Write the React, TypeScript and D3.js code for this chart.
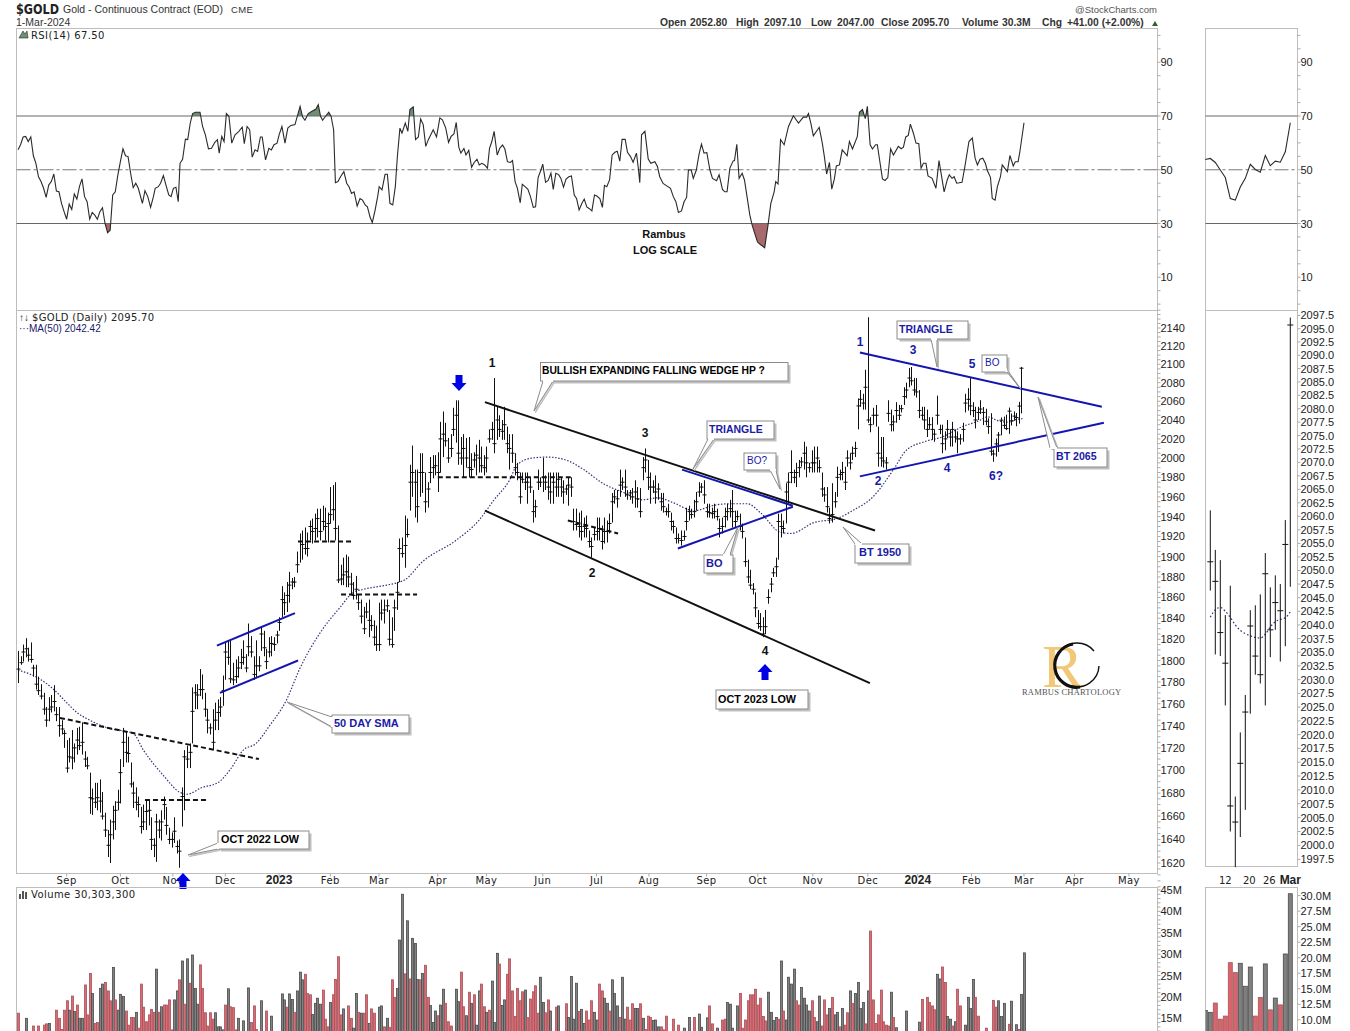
import React from "react";
import * as d3 from "d3";

// ---------- DATA: daily bars as [high, low, close] ----------
const bars2022A: number[][] = [
[1809,1779,1792],[1804,1796,1798],[1815,1799,1808],[1821,1803,1811],[1812,1799,1805],[1817,1798,1801],[1796,1785,1793],[1796,1773,1778],[1785,1768,1772],[1778,1764,1767],
[1770,1750,1755],[1757,1739,1745],[1766,1744,1755],[1768,1752,1757],[1777,1753,1762],[1757,1744,1750],[1757,1730,1740],[1745,1732,1737],[1736,1720,1733],[1727,1698,1702],
[1729,1707,1712],[1736,1701,1711],[1724,1707,1720],[1738,1714,1727],[1739,1718,1722],[1743,1714,1725],[1717,1703,1710],[1712,1701,1704],[1698,1662,1676],[1684,1661,1675],
[1689,1667,1672],[1689,1665,1676],[1692,1663,1673],[1681,1657,1660],[1663,1642,1648],[1648,1625,1635],[1657,1620,1644],[1669,1640,1655],[1673,1648,1665],[1683,1665,1672],
[1710,1671,1698],[1738,1703,1725],[1735,1707,1716],[1730,1707,1715],[1707,1685,1688],[1690,1667,1680],[1685,1665,1672],[1677,1659,1670],[1668,1645,1651],[1670,1648,1655],
[1674,1648,1664],[1674,1652,1665],[1659,1631,1640],[1641,1625,1635],[1662,1621,1655],[1657,1641,1648],[1665,1639,1655],[1677,1657,1670],[1668,1644,1652],[1650,1636,1640],
[1646,1633,1640],[1659,1637,1647],[1639,1628,1634],[1640,1616,1630],[1685,1651,1677],[1718,1665,1712],[1722,1702,1710],[1724,1702,1716],[1775,1724,1753],[1778,1755,1770],
[1778,1755,1768],[1792,1767,1773],[1787,1764,1773],[1770,1748,1755],[1755,1733,1745],[1742,1732,1738],[1755,1718,1725],[1761,1736,1745],[1764,1736,1752],[1766,1748,1757],
[1786,1758,1772],[1817,1782,1808],[1819,1796,1803],[1819,1779,1783],[1798,1777,1782],[1801,1779,1785],[1804,1784,1793],[1811,1792,1798],[1819,1796,1803],[1806,1789,1793],
[1835,1804,1813],[1823,1803,1808],[1804,1782,1787],[1819,1784,1795],[1804,1790,1795],[1831,1809,1825],[1828,1804,1812],[1811,1792,1799],[1822,1803,1808],[1823,1804,1816],
[1822,1809,1815],[1828,1816,1824],
];
const bars2023A: number[][] = [
[1841,1828,1836],[1871,1841,1858],[1865,1843,1855],[1875,1846,1862],[1885,1855,1872],[1879,1868,1875],[1880,1870,1875],[1905,1884,1892],[1923,1894,1915],[1926,1897,1912],
[1929,1902,1908],[1924,1900,1908],[1936,1916,1930],[1938,1913,1925],[1943,1916,1928],[1948,1919,1938],[1948,1916,1925],[1951,1926,1935],[1949,1916,1930],[1944,1914,1933],
[1970,1933,1942],[1972,1936,1947],[1975,1916,1928],[1931,1874,1877],[1892,1872,1878],[1899,1872,1882],[1902,1870,1885],[1900,1870,1880],[1884,1863,1873],[1875,1858,1862],
[1881,1858,1868],[1863,1848,1855],[1858,1835,1842],[1851,1825,1830],[1855,1840,1846],[1858,1822,1838],[1843,1828,1833],[1838,1814,1822],[1833,1809,1815],[1855,1809,1815],
[1858,1838,1845],[1858,1835,1848],[1858,1846,1852],[1848,1814,1820],[1841,1812,1815],[1858,1828,1850],[1875,1848,1865],[1918,1875,1908],[1919,1899,1903],[1941,1889,1911],
[1938,1919,1922],[1993,1946,1975],[2013,1960,1985],[1988,1939,1975],[1988,1934,1950],[2005,1960,1985],[2005,1964,1985],[1985,1944,1955],[1975,1949,1968],[2001,1974,1985],
[2003,1979,1990],[2003,1982,1992],[2006,1965,1985],[2038,1985,2020],[2049,2001,2025],[2037,2012,2018],[2021,1995,2000],[2025,2001,2010],[2053,2023,2030],[2061,2016,2045],
[2061,1993,2005],[2022,1993,2000],[2025,1980,2010],[2021,1990,2000],[2022,1980,1990],[2005,1980,1988],[2006,1990,1998],[2014,1982,2003],[2019,1985,2000],[2012,1985,1992],
[2003,1982,1990],[2012,1985,2000],[2030,2016,2020],[2038,2019,2030],[2085,2005,2015],[2054,2019,2040],[2045,2022,2030],[2040,2019,2028],[2054,2019,2035],[2033,2005,2015],
[2025,1988,2010],[2025,1995,2005],[2005,1982,1990],[1995,1977,1985],[1985,1953,1960],[1985,1974,1978],[1985,1967,1975],[1985,1953,1975],[1980,1964,1970],[1967,1934,1945],
[1957,1939,1950],[1988,1967,1975],[1980,1970,1975],[2000,1965,1980],[1982,1967,1975],[1985,1957,1970],[1985,1953,1965],[1985,1953,1975],[1985,1960,1970],[1985,1960,1978],
[1980,1960,1970],[1977,1953,1965],[1972,1962,1968],[1980,1951,1972],[1980,1960,1970],
];
const bars2023B: number[][] = [
[1948,1926,1935],[1948,1926,1932],[1944,1919,1930],[1946,1916,1925],[1939,1919,1930],[1941,1919,1928],[1926,1909,1915],[1919,1899,1910],[1929,1916,1922],[1939,1916,1925],
[1939,1916,1928],[1931,1907,1915],[1939,1913,1925],[1936,1914,1925],[1943,1923,1933],[1964,1934,1955],[1967,1953,1960],[1967,1949,1958],[1988,1960,1972],[1980,1967,1975],
[1988,1960,1970],[1967,1957,1962],[1967,1957,1964],[1969,1953,1960],[1977,1949,1965],[1970,1949,1958],[1969,1939,1945],[2001,1977,1990],[2010,1985,1998],[1998,1967,1980],
[1985,1953,1970],[1977,1964,1970],[1982,1953,1965],[1974,1957,1968],[1964,1946,1955],[1964,1944,1950],[1949,1941,1945],[1953,1939,1945],[1944,1926,1935],[1936,1923,1930],
[1929,1913,1918],[1923,1913,1918],[1926,1911,1916],[1926,1916,1920],[1949,1926,1935],[1951,1936,1945],[1948,1938,1942],[1957,1939,1945],[1965,1946,1955],[1975,1960,1965],
[1974,1964,1970],[1977,1953,1962],[1953,1939,1945],[1953,1939,1944],[1949,1938,1943],[1953,1938,1945],[1948,1936,1940],[1938,1919,1928],[1939,1923,1930],[1949,1929,1940],
[1953,1936,1945],[1957,1939,1948],[1967,1929,1945],[1946,1929,1935],[1946,1936,1940],[1943,1926,1930],[1933,1918,1925],[1919,1890,1895],[1897,1874,1880],[1887,1868,1872],
[1874,1863,1868],[1865,1841,1850],[1848,1830,1835],[1845,1828,1832],[1841,1822,1825],[1848,1825,1832],[1868,1854,1860],[1879,1865,1873],[1889,1880,1884],[1899,1880,1890],
[1943,1897,1935],[1943,1919,1930],[1936,1923,1928],[1974,1933,1965],[1985,1953,1975],[2008,1974,1985],[1988,1974,1980],[1995,1970,1985],[1998,1980,1990],[2001,1991,1996],
[2017,1988,2005],[2012,1980,1995],[1995,1985,1990],[2008,1985,1995],[2012,1985,1995],[2012,1985,2000],[1998,1985,1990],[1985,1960,1968],[1970,1955,1962],[1970,1944,1950],
[1949,1933,1938],[1974,1934,1942],[1965,1949,1955],[1991,1960,1980],[1988,1977,1983],[1996,1977,1985],[1991,1967,1975],[2008,1991,2000],[2005,1988,1995],[2012,1998,2005],
[2017,2001,2010],[2063,2030,2055],[2072,2054,2062],[2068,2051,2058],[2094,2051,2075],[2152,2037,2040],[2043,2027,2035],[2053,2035,2045],[2056,2033,2045],[2033,1991,2005],
[2022,1991,2000],[2022,1990,1997],[2001,1988,1995],[2061,2038,2047],[2051,2028,2035],[2045,2028,2038],[2059,2037,2050],[2056,2040,2045],[2056,2048,2052],[2075,2056,2065],
[2080,2063,2072],[2096,2075,2085],[2097,2077,2082],[2085,2066,2072],[2085,2064,2070],
];
const bars2024: number[][] = [
[2072,2042,2050],[2054,2040,2045],[2054,2030,2040],[2051,2022,2030],[2043,2030,2035],[2043,2019,2030],[2030,2017,2025],[2066,2035,2045],[2035,2025,2030],[2035,2005,2015],
[2028,2008,2020],[2040,2021,2030],[2030,2012,2022],[2038,2012,2030],[2030,2016,2022],[2028,2005,2020],[2025,2014,2020],[2037,2017,2030],[2068,2048,2058],[2074,2050,2062],
[2085,2045,2055],[2059,2043,2050],[2054,2031,2040],[2054,2040,2048],
];
const barsRecent: number[][] = [
[2061.1,2046.3,2051.6],[2053.8,2034.6,2048],[2051.9,2034.3,2038.6],[2041.8,2025.3,2033],[2047.2,2002.5,2007.1],[2008.8,1996.1,2004.2],[2020.4,2001.5,2014.8],[2027.2,2006.4,2024.1],
[2042.7,2023.8,2039.8],[2043.6,2030.9,2034.3],[2045.6,2029.3,2030.9],[2053.2,2025.3,2049.4],[2046.9,2034.1,2039.1],[2049.1,2039.1,2044.1],[2047.5,2033.3,2042.6],[2059.3,2036.1,2054.8],[2097.1,2047,2095.7],
];
const bars = [...bars2022A, ...bars2023A, ...bars2023B, ...bars2024, ...barsRecent];

// MA(50): [trading day, value]
const maPoints: number[][] = [
[0,1791],[5,1787],[9,1782],[14,1773],[19,1761],[23,1752],[28,1745],[35,1738],[45,1733],[49,1718],[57,1695],[63,1681],[66,1679],[72,1685],[78,1689],[83,1701],[88,1718],[93,1724],[98,1739],[105,1764],
[110,1792],[118,1826],[126,1851],[131,1865],[135,1868],[144,1872],[149,1875],[151,1877],[158,1895],[171,1916],[180,1936],[186,1957],[192,1977],[195,1993],[201,2000],[207,2001],[215,1997],[221,1988],
[229,1973],[236,1965],[244,1957],[250,1959],[256,1954],[264,1946],[273,1952],[279,1953],[285,1953],[290,1944],[298,1924],[302,1923],[311,1934],[320,1938],[326,1946],[334,1960],[342,1988],[347,2008],
[354,2017],[361,2022],[369,2033],[376,2040],
];
const maRecent = [2041.4,2042.8,2043.2,2042.5,2041.4,2040,2039,2038.4,2038,2037.7,2037.6,2038.3,2039.6,2040.6,2041,2041.3,2042.4];

// RSI(14): [trading day, value]
const rsi2022: number[][] = [
[0,57.4],[1,59.3],[2,62.2],[3,62.4],[4,60.5],[5,62.2],[6,55.2],[7,52.4],[8,47.4],[9,45.6],[10,43.1],[11,39.7],[12,44.3],[13,45.6],[14,48.4],[15,42.1],[16,41.8],[17,37.5],[18,34.4],[19,31.6],
[20,37.2],[21,35.2],[22,41],[23,39.1],[24,43.7],[25,46.6],[26,40],[27,38.1],[28,31.6],[29,34.1],[30,33.1],[31,31.6],[32,34.4],[33,35.9],[34,30],[35,26.6],[36,27.5],[37,40.6],[38,41.8],[39,48],
[40,53],[41,57.8],[42,55.2],[43,54.9],[44,48.7],[45,43.3],[46,45],[47,43.1],[48.6,37.5],[49.6,42.2],[50.7,40],[51.8,36],[52.9,40],[53.6,43.1],[54.8,43.7],[55.7,45],[56.8,47.8],[57.8,44.3],[58.9,40.6],[59.8,40],
[60.7,43.1],[61.7,43.5],[62.6,38.1],[63.3,52.4],[64.3,53.9],[65.4,61.4],[66.3,61.2],[67.3,67.4],[68.2,70.9],[69.3,71.4],[71.1,71.4],[72.1,66.1],[73.2,63],[74.4,57.8],[75.6,58],[76.9,60.2],[77.9,61.2],[78.6,56.2],[79.6,62.4],[80.5,60.5],
[81.4,70.9],[82.4,69.9],[83.5,59.9],[84.8,63],[86.3,64.3],[87.6,65.9],[88.4,59.7],[89.5,66.1],[90.5,64.9],[91.5,54.7],[92.6,57.4],[93.6,56.8],[94.7,62.2],[95.4,62.2],[96.7,53.7],[98,58],[99,57.4],[100,59.3],[101.2,59.9],[102,63],
];
const rsi2023A: number[][] = [
[103.1,66.1],[104.3,59.9],[105.4,65.5],[106.6,66.5],[108.2,66.8],[110.2,73.6],[111.2,69.6],[112.1,68.4],[113.4,70.9],[114.7,71.7],[116.4,72.6],[117.3,74.2],[118.2,69.9],[119,68.4],[120.3,70.1],[121.4,71.4],[122.3,69.9],[123.3,64.9],[124,45.2],[125,45.6],
[126,47.4],[127.3,49.3],[128.4,45],[129.3,43.7],[130.3,41.2],[131.3,41.8],[132.5,36.5],[133.6,39.3],[134.6,38.7],[135.7,36.8],[136.5,36.2],[137.5,32.5],[138.4,30.3],[139.5,35],[140.5,40],[141.1,43.7],[142.2,42.5],[143.4,48.3],[144.3,48.3],[145.3,37.5],
[146.4,36.9],[147.4,43.7],[148.2,54.9],[149.2,65.5],[150,63.6],[151.3,67.4],[152.3,64.3],[153.1,72.4],[154.4,73.4],[155.3,61.2],[156.4,62.2],[157.3,68.9],[158.3,66.8],[159.3,58.7],[160.3,61.2],[162.2,64.9],[163.5,62.2],[164.8,69.3],[165.8,68.6],[167.1,65.5],
[168.2,60.2],[169.2,62.4],[170.3,63.3],[171.2,67.6],[172.2,58.4],[173,56.2],[174.2,57.9],[175,55.5],[176.1,57.2],[177.2,50.9],[178.2,52.7],[179.3,53.9],[180.2,51.8],[181.2,52.4],[182.2,51.9],[183.4,50.6],[184.2,58],[185.1,60.5],[186,64.3],[187.2,55.5],
[188.2,58],[189.3,59.2],[190.2,57.7],[191.2,53],[192.3,52.7],[193.2,53.4],[194.2,45.6],[195.1,43.1],[196.2,37.7],[197,44.6],[198.1,43.7],[199.2,42.7],[200.2,40],[201.3,36],[202.2,36.2],[203.2,47.2],[204.3,49.9],[205,52.1],[206.1,45.3],[207.1,46],
[208.2,48.7],[209.1,42.7],[210.1,48.7],[211.2,48.2],[212.1,46.8],[213.1,43.5],[214.1,46.5],[215.2,47.4],[216.2,47.7],
];
const rsi2023B: number[][] = [
[217.3,40.6],[218.2,39.3],[219.2,35],[220.3,37.5],[221.2,39.1],[222.2,36.2],[223.1,35.6],[224.2,34.7],[225.2,40.6],[226.1,40.2],[227.3,39.3],[228.3,36],[229.1,44.2],[230,43.7],[231.1,46.2],[232.1,55.5],[233.2,56.5],[234.1,56.9],[235.1,53.2],[236,61.3],
[237.2,61.3],[238.1,56.5],[239.3,54.9],[240.3,52.8],[241.6,56.2],[242.4,50],[242.9,45.2],[243.6,63],[244.9,64.3],[246.2,54],[247.2,52.4],[248.8,53],[249.8,51.2],[250.7,47.4],[252,44.9],[253.3,44.1],[254.9,43.1],[256,40],[257,38.1],[258,34.1],
[259.2,34.7],[260.2,38.1],[261.2,39.7],[261.9,49.9],[263,49.9],[263.8,46.8],[265,49.9],[266,55.5],[267,59.5],[268,56.2],[269.1,56.4],[270.3,49.9],[271.3,46.8],[272.9,45.9],[273.9,48.1],[275.2,42.7],[276.1,41.8],[277,41.8],[278.1,50.6],[279.4,53.3],
[279.9,53.4],[280.8,59.5],[281.7,46.8],[282.9,48.7],[283.8,46.2],[284.8,40],[285.9,33.1],[286.8,29.4],[287.8,26.3],[288.9,23.1],[290,22.2],[291.7,21],[293,29.4],[294.1,37.5],[295.4,41.8],[296,45.6],[296.9,44.7],[297.9,61.2],[299.3,59.3],[301,66.1],
[302.9,70.1],[304.9,67.4],[306.8,69.6],[308.1,69.6],[308.8,70.9],[309.7,67.4],[310.7,62.6],[313,65.8],[314.2,59.9],[315,55],[315.9,48.4],[317,52.7],[317.9,42.8],[318.9,46.5],[319.7,51.4],[320.9,51.8],[322,57.4],[323.9,55.2],[324.8,60.5],[326,57.7],
[327.9,62.4],[328.7,71.4],[329.9,72.4],[331,69],[331.8,73.6],[332.9,59.3],[333.8,57.7],[335,59.3],[335.7,59.3],[337.7,46.6],[338.7,46],[339.8,47.1],[340.9,57.8],[342,55.5],[343.9,58.7],[345,57.8],[345.9,58.4],[346.8,62.2],[347.8,62.8],[348.6,67],
];
const rsi2024: number[][] = [
[349.8,63.6],[350.8,59.9],[351.9,59.7],[352.8,50.6],[353.7,52.4],[354.7,52.4],[355.5,47.7],[357.1,46.8],[358.6,43.1],[359.8,53.4],[361.8,41.8],[363,46.2],[363.8,48.1],[364.9,46.8],[365.7,47.4],[366.7,45],[368.8,45.3],[369.8,50.6],[371.5,60.5],[372.8,61.8],
[373.9,54.3],[374.8,51.8],[375.8,53.9],[376.9,54.3],[377.9,52.4],[378.7,49.6],[379.9,47.2],[380.6,39.3],[381.7,38.7],[382.6,43.7],[383.8,47.4],[384.5,51.8],[386.5,49.3],[387.5,55.3],[388.8,51.4],[389.6,53],[390.7,53],[391.4,56.8],[393,67.5],
];
const rsiPoints = [...rsi2022, ...rsi2023A, ...rsi2023B, ...rsi2024];
const rsiRecent = [53.8,54.2,52.7,49.9,47.1,39.3,38.7,43.6,46.8,52,50.1,49.1,55.3,51.5,53.2,52.8,56.7,67.5];

// Volume in millions, [volume, 1 = red day]
const volumeA: number[][] = [
[16.2,1],[10,1],[10,0],[15,0],[10,0],[10,0],[13.2,1],[10,1],[13.2,1],[10,1],[13.4,1],[13.7,1],[13.8,0],[10,0],[10,0],[16.9,1],[15,1],[12.4,1],[16.9,1],[19.1,1],
[16.9,0],[20.2,1],[16.6,0],[18.1,1],[15,0],[15,0],[22.8,1],[15.8,1],[25.5,1],[20.8,0],[13.8,1],[14,1],[22,0],[23,0],[23.4,1],[21.4,1],[19.1,1],[26.9,0],[19.3,1],[16.9,0],
[20.6,0],[20.1,0],[16.7,1],[13.4,1],[15.2,1],[15.2,1],[16.4,0],[12.7,1],[23,1],[17.6,1],[14.2,1],[15.8,1],[17.1,1],[16.4,1],[26.5,0],[16.4,1],[17.7,0],[18.1,1],[18.1,1],[19.3,1],
[12.3,1],[19.3,0],[21.4,0],[24,1],[28.4,0],[18.3,1],[28.9,0],[23.2,1],[29.8,0],[22,0],[18.3,0],[27.5,1],[22,1],[16.3,1],[13.2,1],[16.3,1],[14.8,1],[16.3,0],[13,0],[13,0],
[12.3,0],[18.1,1],[21.9,0],[17.7,1],[17.5,1],[12.3,1],[15,0],[10,0],[14.4,0],[10,0],[22.1,0],[14,1],[17.9,1],[12.4,1],[10,0],[19.1,0],[10,0],[16.7,1],[10,0],[15.5,0],
[10,0],[10,0],[10,0],[20.7,0],[19.3,0],[17.6,1],[20.7,0],[19.4,0],[16.4,1],[21.4,0],[25.8,0],[24,0],[25.3,1],[20.8,1],[20.5,1],[15.9,0],[18.5,0],[19.7,0],[18.3,0],[21.6,1],
[14.8,1],[13,1],[18.7,0],[20.5,1],[24.1,1],[29.4,1],[15.8,1],[17.2,0],[10,1],[17.9,1],[15,1],[12.7,0],[20.8,0],[16.4,1],[16.2,0],[16.2,1],[20.5,1],[13.8,0],[17.2,1],[16.2,1],
[10,0],[17.6,0],[17.9,0],[13,1],[15,0],[12.9,1],[24,1],[19.9,1],[22,0],[33.3,0],[44,0],[25.4,1],[37.8,0],[24.2,1],[33.7,0],[32.5,0],[24.1,0],[24,1],[25.5,0],[27.4,1],
[19.9,1],[18,0],[14,0],[16.7,0],[15.6,1],[18.1,0],[21.8,0],[18.5,1],[14.2,1],[13.2,1],[10,0],[21.8,0],[18.9,0],[25.8,1],[17.7,1],[15.6,0],[21.1,1],[18.5,0],[20.5,1],[13.4,0],
[21.4,0],[23,1],[17.7,1],[16.4,0],[16.9,1],[23.7,0],[14,0],[30.2,0],[27.7,1],[18,0],[19.3,0],[25.3,1],[28.9,1],[21.4,1],[15.4,1],[22,1],[19.1,1],[21.2,1],[21.6,0],[15.2,1],
[19.5,1],[21.2,1],[22.6,1],[16.2,1],[24.6,0],[18.7,0],[16.3,1],[19.3,1],[16.7,0],[10,1],[17.6,1],[17.9,0],[10,0],[10,0],[18.4,1],[15.2,0],[24.8,0],[14.8,0],[23.2,0],[16.6,1],
];
const volumeB: number[][] = [
[17.1,0],[13.8,0],[16.7,1],[14.6,1],[19.1,1],[16.4,0],[14.6,0],[23,1],[21.4,1],[19.7,0],[18.5,0],[16.7,1],[24,0],[20.8,0],[17.9,0],[15.2,1],[24.6,0],[14.8,0],[17.6,1],[14.6,1],
[18.4,1],[17.3,0],[17.3,0],[18.4,1],[15,0],[12.4,1],[15.5,1],[15.2,1],[14.5,0],[14.6,0],[13,0],[13,1],[12.3,1],[15.5,1],[10,0],[10,0],[14.8,1],[10,0],[13.4,1],[10,0],
[12.7,0],[10,0],[15.2,0],[11,0],[15.2,1],[11,0],[16,0],[12.9,0],[11,0],[15.1,0],[17.9,1],[13.7,1],[11,0],[12.7,0],[11,0],[14.6,1],[14.8,1],[18.7,0],[18.3,0],[12.7,0],
[11,0],[17.9,0],[20.8,1],[12.7,1],[14.6,1],[19.1,1],[20.5,1],[20.5,1],[21.8,1],[18.1,1],[19.7,1],[15.4,1],[14.4,1],[21.1,0],[16.4,0],[14.5,0],[15.2,0],[14.8,1],[28.4,0],[16.7,1],
[14.6,0],[24.6,0],[23,0],[26.5,0],[19.1,1],[18.1,1],[22.2,0],[19.7,0],[18.1,0],[16.7,0],[19.1,1],[15.2,1],[14.2,0],[20.2,0],[13.2,1],[19.3,1],[15.8,1],[17.3,0],[19.9,1],[15.8,0],
[16.4,0],[13,1],[17.3,0],[13.4,1],[16.3,1],[21.4,0],[18.5,1],[20.8,0],[23.4,0],[17.3,0],[18.7,0],[13.7,1],[21.4,0],[35.4,1],[19.3,1],[13.8,1],[15.8,1],[21.6,1],[14.2,1],[13.4,1],
[13.2,1],[21.1,0],[15.2,1],[12.8,0],[10,0],[10,0],[10,0],[16.7,0],[10,0],[10,0],[10,0],[10,0],[14.1,0],[19.4,1],[10,0],[19.9,1],[18.7,1],[17.9,1],[17,1],[25.3,0],
[24.2,0],[27,1],[23.4,1],[15.4,0],[14.8,0],[13.2,1],[14.2,0],[21.8,1],[17.9,1],[11,0],[13.4,0],[19.9,0],[17.3,0],[24.1,0],[19.9,1],[15.5,1],[11.5,0],[11.2,0],[12.7,1],[10.1,1],
[10.6,1],[19.2,1],[17.6,1],[19.1,0],[15.4,0],[18.5,0],[10.6,1],[13.6,1],[19,0],[11.6,1],[13.5,0],[12.4,1],[20.6,0],[30.3,0],
];
const volume = [...volumeA, ...volumeB];

// Time axis: trading-day position of each month label
const monthTicks: [string, number, boolean][] = [
["Sep",19,false],["Oct",40,false],["Nov",60.5,false],["Dec",81,false],["2023",102,true],["Feb",122,false],["Mar",141,false],["Apr",164,false],["May",183,false],["Jun",205,false],["Jul",226,false],["Aug",246.5,false],
["Sep",269,false],["Oct",289,false],["Nov",310.5,false],["Dec",332,false],["2024",351.5,true],["Feb",372.5,false],["Mar",393,false],["Apr",412.7,false],["May",434,false],
];
const recentTicks: [string, number, boolean][] = [["12",380,false],["20",384.8,false],["26",388.8,false],["Mar",393,true]];
const rsiTicks = [90,70,50,30,10];
const volTicksLeft = [45,40,35,30,25,20,15];
const volTicksRight = [30,27.5,25,22.5,20,17.5,15,12.5,10];
const priceTicksLeft = d3.range(1620, 2141, 20);
const priceTicksRight = d3.range(1997.5, 2098, 2.5);

// Hand-drawn study lines in [day, price, day, price]
const wedgeLines = [[182.4,2059,334.8,1926],[182.4,1946,332.8,1779]];
const blueLines = [[259.4,1988,302.7,1951],[257.8,1908,302.7,1950],[328.9,2113,423.4,2054],[328.9,1981,424.2,2037],[77.7,1814,108.2,1845],[78.9,1770,109.4,1800]];
const dashedLines = [[16.4,1747,94.1,1710],[49.6,1674,74.2,1674],[109.4,1915,130.9,1915],[126.2,1863,155.9,1863],[164,1980,216.8,1980],[214.8,1936,234.4,1923]];

// ---------- LAYOUT ----------
const W = 1350, H = 1031;
const L = { left: 16.5, right: 1157.5 };
const R = { left: 1205.5, right: 1297.5 };
const rsiBox = { top: 28.5, bottom: 310.5 };
const priceBox = { top: 310.5, bottom: 873.5 };
const rPriceBottom = 866.5;
const volBox = { top: 887.5, bottom: 1040 };

const x = d3.scaleLinear().domain([0, 393]).range([18, 1024]);
const xR = d3.scaleLinear().domain([377, 393]).range([1210.3, 1290.3]);
const yRsi = d3.scaleLinear().domain([70, 30]).range([116, 223.5]);
const yPrice = d3.scaleLog().domain([1620, 2140]).range([863, 328]);
const yPriceR = d3.scaleLog().domain([2000, 2060]).range([845.4, 516.3]);
const yVol = d3.scaleLinear().domain([45, 15]).range([890, 1018.3]);
const yVolR = d3.scaleLinear().domain([30, 10]).range([895.6, 1019.8]);

const axisFont = "'Liberation Sans', Arial, sans-serif";
const labelFont = "'DejaVu Sans', Verdana, sans-serif";
const NAVY = "#1a1aa6";

const rsiLine = d3.line<number[]>().x(d => x(d[0])).y(d => yRsi(d[1]));
const rsiAreaHi = d3.area<number[]>().x(d => x(d[0])).y0(yRsi(70)).y1(d => yRsi(d[1]));
const rsiAreaLo = d3.area<number[]>().x(d => x(d[0])).y0(yRsi(30)).y1(d => yRsi(d[1]));
const maAll = [...maPoints, ...maRecent.map((v, i) => [377 + i, v])];
const maLine = d3.line<number[]>().x(d => x(d[0])).y(d => yPrice(d[1])).curve(d3.curveMonotoneX);
const rsiRightLine = d3.line<number>().x((_, i) => xR(376 + i)).y(d => yRsi(d));
const maRightLine = d3.line<number>().x((_, i) => xR(377 + i)).y(d => yPriceR(d)).curve(d3.curveMonotoneX);

function Callout({ x0, y0, x1, y1, text, tx, ty, color = "#000", bold = true, size = 11, tip, base }: any) {
  const pts = tip && base ? `${base[0]},${base[1]} ${tip[0]},${tip[1]} ${base[2]},${base[3]}` : null;
  return (
    <g>
      {pts && <polygon points={pts} fill="#d0d0d0" stroke="#bbb" strokeWidth={1} transform="translate(1.5,1.5)" />}
      <rect x={x0 + 2.5} y={y0 + 2.5} width={x1 - x0} height={y1 - y0} fill="#c0c0c0" />
      {pts && <polygon points={pts} fill="#fff" stroke="#8c8c8c" strokeWidth={1} />}
      <rect x={x0} y={y0} width={x1 - x0} height={y1 - y0} fill="#fff" stroke="#8c8c8c" strokeWidth={1} />
      {pts && <line x1={base[0]} y1={base[1]} x2={base[2]} y2={base[3]} stroke="#fff" strokeWidth={2} />}
      <text x={tx} y={ty} fontFamily={axisFont} fontSize={size} fontWeight={bold ? 700 : 400} fill={color}>{text}</text>
    </g>
  );
}

function Arrow({ cx, tipY, dir }: { cx: number; tipY: number; dir: 1 | -1 }) {
  const p = (dx: number, dy: number) => `${cx + dx},${tipY + dir * dy}`;
  return <polygon fill="#0000e6" points={[p(0,0),p(7.5,8),p(3.5,8),p(3.5,16),p(-3.5,16),p(-3.5,8),p(-7.5,8)].join(" ")} />;
}

function VTicks({ xp, ys }: { xp: number; ys: number[] }) {
  return <g stroke="#aaa" strokeWidth={1}>{ys.map((y, i) => <line key={i} x1={xp} x2={xp + 3} y1={y} y2={y} />)}</g>;
}

export default function App() {
  const last17 = bars.slice(-17);
  const recentVol = volume.slice(-18);
  return (
    <svg width={W} height={H} viewBox={`0 0 ${W} ${H}`} style={{ position: "absolute", left: 0, top: 0, display: "block", background: "#fff" }}>
      <defs>
        <clipPath id="hi"><rect x={L.left} y={rsiBox.top} width={L.right - L.left} height={yRsi(70) - rsiBox.top} /></clipPath>
        <clipPath id="lo"><rect x={L.left} y={yRsi(30)} width={L.right - L.left} height={rsiBox.bottom - yRsi(30)} /></clipPath>
        <clipPath id="rv"><rect x={R.left} y={volBox.top} width={R.right - R.left} height={200} /></clipPath>
      </defs>

      {/* header */}
      <text x={16} y={14} fontFamily="'DejaVu Sans Condensed','DejaVu Sans',sans-serif" fontWeight={700} fontSize={14} textLength={43} lengthAdjust="spacingAndGlyphs" fill="#222">$GOLD</text>
      <text x={63} y={13} fontFamily={axisFont} fontSize={10.5} fill="#333">Gold - Continuous Contract (EOD)</text>
      <text x={231} y={13} fontFamily={axisFont} fontSize={9.5} letterSpacing={0.4} fill="#333">CME</text>
      <text x={16} y={26} fontFamily={axisFont} fontSize={10.5} fill="#333">1-Mar-2024</text>
      <text x={1157} y={13} textAnchor="end" fontFamily={axisFont} fontSize={9.5} fill="#555">@StockCharts.com</text>
      <g fontFamily={axisFont} fontSize={10.3} fontWeight={700} fill="#333">
        <text x={660} y={26}>Open</text><text x={690} y={26}>2052.80</text>
        <text x={736} y={26}>High</text><text x={764} y={26}>2097.10</text>
        <text x={811} y={26}>Low</text><text x={837} y={26}>2047.00</text>
        <text x={881} y={26}>Close</text><text x={912} y={26}>2095.70</text>
        <text x={962} y={26}>Volume</text><text x={1002} y={26}>30.3M</text>
        <text x={1042} y={26}>Chg</text><text x={1067} y={26}>+41.00 (+2.00%)</text>
      </g>
      <polygon points="1152,26 1155,21 1158,26" fill="#2f5f3a" />

      {/* RSI panel */}
      <rect x={L.left} y={rsiBox.top} width={L.right - L.left} height={rsiBox.bottom - rsiBox.top} fill="none" stroke="#bdbdbd" />
      <rect x={R.left} y={rsiBox.top} width={R.right - R.left} height={rsiBox.bottom - rsiBox.top} fill="none" stroke="#bdbdbd" />
      <path d={rsiAreaHi(rsiPoints) || ""} fill="#6f8f74" clipPath="url(#hi)" />
      <path d={rsiAreaLo(rsiPoints) || ""} fill="#a8686c" clipPath="url(#lo)" />
      {[L, R].map((b, k) => (
        <g key={k}>
          <line x1={b.left} x2={b.right} y1={yRsi(70)} y2={yRsi(70)} stroke="#666" />
          <line x1={b.left} x2={b.right} y1={yRsi(30)} y2={yRsi(30)} stroke="#666" />
          <line x1={b.left} x2={b.right} y1={yRsi(50)} y2={yRsi(50)} stroke="#777" strokeDasharray="14 3 3 3" />
          <VTicks xp={b.right} ys={d3.range(0, 101, 5).map(v => yRsi(v))} />
          {rsiTicks.map(t => <text key={t} x={b.right + 3} y={yRsi(t) + 4} fontFamily={axisFont} fontSize={11} fill="#222">{t}</text>)}
        </g>
      ))}
      <path d={rsiLine(rsiPoints) || ""} fill="none" stroke="#2a2a2a" strokeWidth={1.1} />
      <path d={rsiRightLine(rsiRecent) || ""} fill="none" stroke="#2a2a2a" strokeWidth={1.1} />
      <polygon points="19,38 23,31 25,34 27,31 28,38" fill="#6f8f74" stroke="#2a2a2a" strokeWidth={0.6} />
      <text x={31} y={39} fontFamily={labelFont} fontSize={10} letterSpacing={0.4} fill="#222">RSI(14) 67.50</text>
      <text x={664} y={238} textAnchor="middle" fontFamily={axisFont} fontSize={11} fontWeight={700} fill="#111">Rambus</text>
      <text x={665} y={254} textAnchor="middle" fontFamily={axisFont} fontSize={11} fontWeight={700} fill="#111">LOG SCALE</text>

      {/* price panel */}
      <rect x={L.left} y={priceBox.top} width={L.right - L.left} height={priceBox.bottom - priceBox.top} fill="none" stroke="#bdbdbd" />
      <rect x={R.left} y={priceBox.top} width={R.right - R.left} height={rPriceBottom - priceBox.top} fill="none" stroke="#bdbdbd" />
      <VTicks xp={L.right} ys={d3.range(1600, 2161, 5).map(v => yPrice(v))} />
      <VTicks xp={R.right} ys={priceTicksRight.map(v => yPriceR(v))} />
      {priceTicksLeft.map(t => <text key={t} x={L.right + 3} y={yPrice(t) + 4} fontFamily={axisFont} fontSize={11} fill="#222">{t}</text>)}
      {priceTicksRight.map(t => <text key={t} x={R.right + 3} y={yPriceR(t) + 4} fontFamily={axisFont} fontSize={11} fill="#222">{t.toFixed(1)}</text>)}

      <text x={19} y={321} fontFamily={axisFont} fontSize={10} fill="#222">↑↓</text>
      <text x={32} y={321} fontFamily={labelFont} fontSize={10} letterSpacing={0.3} fill="#222">$GOLD (Daily) 2095.70</text>
      <text x={19} y={332} fontFamily={axisFont} fontSize={10} fill="#1a1a6a">···MA(50) 2042.42</text>

      {/* MA under bars */}
      <path d={maLine(maAll) || ""} fill="none" stroke="#33337a" strokeWidth={1.2} strokeDasharray="1.5 1.6" />
      <path d={maRightLine(maRecent) || ""} fill="none" stroke="#33337a" strokeWidth={1.2} strokeDasharray="1.6 2.2" />

      {/* OHLC bars */}
      <g stroke="#111" strokeWidth={1}>
        {bars.map((b, i) => {
          const px = Math.round(x(i)) + 0.5;
          return (
            <g key={i}>
              <line x1={px} x2={px} y1={yPrice(b[0])} y2={yPrice(b[1])} />
              <line x1={px - 2} x2={px + 2} y1={yPrice(b[2])} y2={yPrice(b[2])} />
            </g>
          );
        })}
        {last17.map((b, i) => {
          const px = xR(377 + i);
          return (
            <g key={i}>
              <line x1={px} x2={px} y1={yPriceR(b[0])} y2={yPriceR(b[1])} />
              <line x1={px - 3} x2={px + 3} y1={yPriceR(b[2])} y2={yPriceR(b[2])} />
            </g>
          );
        })}
      </g>

      {/* study lines */}
      {wedgeLines.map((l, i) => <line key={i} x1={x(l[0])} y1={yPrice(l[1])} x2={x(l[2])} y2={yPrice(l[3])} stroke="#111" strokeWidth={2} />)}
      {blueLines.map((l, i) => <line key={i} x1={x(l[0])} y1={yPrice(l[1])} x2={x(l[2])} y2={yPrice(l[3])} stroke="#1414b0" strokeWidth={2} />)}
      {dashedLines.map((l, i) => <line key={i} x1={x(l[0])} y1={yPrice(l[1])} x2={x(l[2])} y2={yPrice(l[3])} stroke="#111" strokeWidth={2} strokeDasharray="5 3" />)}

      {/* arrows */}
      <Arrow cx={459} tipY={391} dir={-1} />
      <Arrow cx={765} tipY={664} dir={1} />

      {/* wave labels */}
      <g fontFamily={axisFont} fontSize={12} fontWeight={700} fill="#111" textAnchor="middle">
        <text x={492} y={367}>1</text><text x={592} y={577}>2</text><text x={645} y={437}>3</text><text x={765} y={655}>4</text>
      </g>
      <g fontFamily={axisFont} fontSize={12} fontWeight={700} fill={NAVY} textAnchor="middle">
        <text x={860} y={346}>1</text><text x={913} y={354}>3</text><text x={972} y={368}>5</text><text x={878} y={485}>2</text><text x={947} y={472}>4</text><text x={996} y={480}>6?</text>
      </g>

      {/* callouts */}
      <Callout x0={540.5} y0={362.5} x1={788} y1={381} text="BULLISH EXPANDING FALLING WEDGE HP ?" tx={542} ty={374} size={10.3} tip={[534,411]} base={[543,381,553,381]} />
      <Callout x0={707} y0={421} x1={774} y1={439} text="TRIANGLE" tx={709} ty={433} size={10.5} color={NAVY} tip={[693,469]} base={[708,439,714,439]} />
      <Callout x0={744} y0={453} x1={776} y1={470} text="BO?" tx={747} ty={464} color={NAVY} bold={false} size={10} tip={[780,489]} base={[770,470,776,470]} />
      <Callout x0={704} y0={555} x1={733} y1={573} text="BO" tx={706} ty={567} color={NAVY} tip={[738,527]} base={[723,555,730,555]} />
      <Callout x0={855} y0={544} x1={909} y1={563} text="BT 1950" tx={859} ty={556} color={NAVY} tip={[843,527]} base={[855,544,862,544]} />
      <Callout x0={1054} y0={448} x1={1107} y1={467} text="BT 2065" tx={1056} ty={460} size={10.6} color={NAVY} tip={[1038,397]} base={[1050,448,1057,448]} />
      <Callout x0={897} y0={321} x1={968} y1={339} text="TRIANGLE" tx={899} ty={333} size={10.5} color={NAVY} tip={[937,367]} base={[931,339,937,339]} />
      <Callout x0={982} y0={355} x1={1007} y1={372} text="BO" tx={985} ty={366} color={NAVY} bold={false} size={10} tip={[1019,387]} base={[1005,367,1007,372]} />
      <Callout x0={332} y0={715} x1={409} y1={733} text="50 DAY SMA" tx={334} ty={727} color={NAVY} tip={[287,702]} base={[332,717,332,727]} />
      <Callout x0={218} y0={831} x1={309} y1={849} text="OCT 2022 LOW" tx={221} ty={843} size={10.8} tip={[188,855]} base={[218,843,218,849]} />
      <Callout x0={716} y0={690} x1={808} y1={709} text="OCT 2023 LOW" tx={718} ty={703} size={10.8} />

      {/* logo */}
      <g>
        <text x={1042} y={687} fontFamily="'Liberation Serif',serif" fontSize={62} fill="#f2c777">R</text>
        <path d="M 1094,651 A 22,22 0 1 0 1099,666" fill="none" stroke="#111" strokeWidth={1.4} />
        <path d="M 1073,644 A 21.5,21.5 0 0 0 1080,687" fill="none" stroke="#111" strokeWidth={3.2} />
        <text x={1022} y={695} fontFamily="'Liberation Serif',serif" fontSize={8.5} letterSpacing={0.2} fill="#555">RAMBUS CHARTOLOGY</text>
      </g>

      {/* x axes */}
      {monthTicks.map(([t, d, b], i) => (
        <g key={i}>
          <line x1={x(d)} x2={x(d)} y1={priceBox.bottom} y2={priceBox.bottom + 3} stroke="#aaa" />
          <text x={x(d)} y={884} textAnchor="middle" fontFamily={b ? axisFont : labelFont} fontWeight={b ? 700 : 400} fontSize={b ? 12 : 10} letterSpacing={b ? 0 : 0.4} fill="#222">{t}</text>
        </g>
      ))}
      {recentTicks.map(([t, d, b], i) => (
        <text key={i} x={xR(d)} y={884} textAnchor="middle" fontFamily={b ? axisFont : labelFont} fontWeight={b ? 700 : 400} fontSize={b ? 12 : 10} fill="#222">{t}</text>
      ))}
      <Arrow cx={183} tipY={873} dir={1} />

      {/* volume */}
      <rect x={L.left} y={volBox.top} width={L.right - L.left} height={volBox.bottom - volBox.top} fill="none" stroke="#bdbdbd" />
      <rect x={R.left} y={volBox.top} width={R.right - R.left} height={volBox.bottom - volBox.top} fill="none" stroke="#bdbdbd" />
      {volume.map((v, i) => (
        <rect key={i} x={Math.round(x(i)) - 0.5} y={yVol(v[0])} width={2} height={H + 10 - yVol(v[0])} fill={v[1] ? "#dc6a72" : "#828282"} stroke={v[1] ? "#a8525a" : "#4a4a4a"} strokeWidth={0.8} />
      ))}
      <g clipPath="url(#rv)">
        {recentVol.map((v, i) => (
          <rect key={i} x={xR(376 + i) - 2} y={yVolR(v[0])} width={4} height={H + 10 - yVolR(v[0])} fill={v[1] ? "#d8646c" : "#808080"} stroke={v[1] ? "#a8525a" : "#4a4a4a"} strokeWidth={0.8} />
        ))}
      </g>
      <VTicks xp={L.right} ys={d3.range(12, 46, 1).map(v => yVol(v))} />
      <VTicks xp={R.right} ys={d3.range(10, 31, 2.5).map(v => yVolR(v))} />
      {volTicksLeft.map(t => <text key={t} x={L.right + 3} y={yVol(t) + 4} fontFamily={axisFont} fontSize={11} fill="#222">{t}M</text>)}
      {volTicksRight.map(t => <text key={t} x={R.right + 3} y={yVolR(t) + 4} fontFamily={axisFont} fontSize={11} fill="#222">{t.toFixed(1)}M</text>)}
      <g fill="#555"><rect x={19} y={894} width={2} height={5} /><rect x={22} y={891} width={2} height={8} /><rect x={25} y={892} width={2} height={7} /></g>
      <text x={31} y={898} fontFamily={labelFont} fontSize={10} letterSpacing={0.4} fill="#222">Volume 30,303,300</text>
    </svg>
  );
}
